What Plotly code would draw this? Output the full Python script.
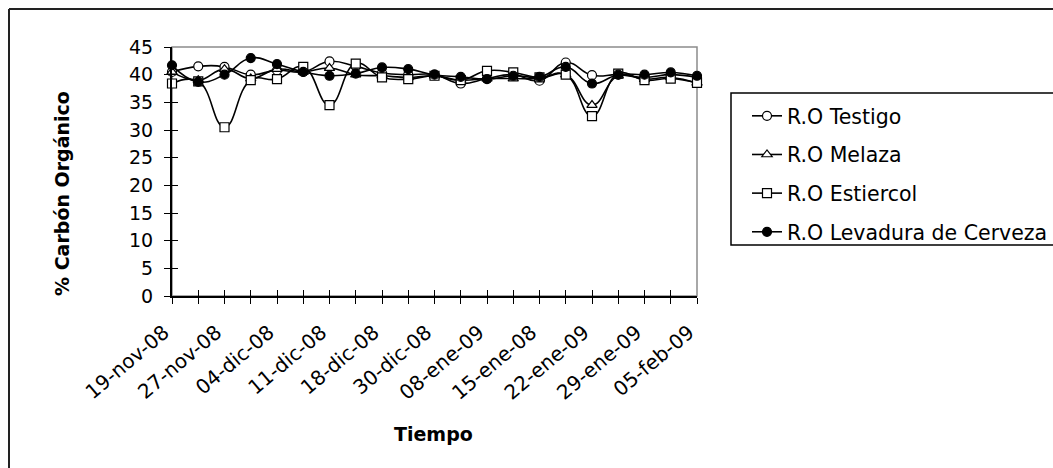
import plotly.graph_objects as go

# ---- data ----
tick_labels = ["19-nov-08", "27-nov-08", "04-dic-08", "11-dic-08", "18-dic-08", "30-dic-08",
               "08-ene-09", "15-ene-08", "22-ene-09", "29-ene-09", "05-feb-09"]

testigo = [40.5, 41.5, 41.4, 40.0, 40.8, 40.5, 42.4, 41.5, 40.3, 40.0, 40.0,
           38.4, 39.3, 40.0, 38.9, 42.2, 39.9, 40.0, 39.5, 40.0, 39.5]
melaza = [40.5, 39.0, 41.0, 39.3, 41.0, 40.5, 41.2, 40.0, 39.8, 39.5, 39.8,
          39.0, 39.3, 39.3, 39.3, 40.0, 34.5, 39.8, 39.2, 39.5, 38.5]
estiercol = [38.4, 38.8, 30.5, 39.0, 39.2, 41.4, 34.5, 42.0, 39.5, 39.2, 39.8,
             39.0, 40.7, 40.4, 39.5, 40.0, 32.5, 40.2, 39.0, 39.3, 38.5]
levadura = [41.7, 38.7, 40.0, 43.0, 41.9, 40.5, 39.8, 40.2, 41.3, 41.0, 40.0,
            39.6, 39.2, 39.8, 39.6, 41.4, 38.4, 40.0, 40.0, 40.4, 39.8]

series_names = ["R.O Testigo", "R.O Melaza", "R.O Estiercol", "R.O Levadura de Cerveza"]
y_ticks = list(range(0, 46, 5))

# ---- layout constants ----
W, H = 1053, 468
L, R, T, B = 172, 697, 47, 296
FONT = "DejaVu Sans"

n = len(testigo)
xs = list(range(n))
tickvals = xs
ticktext = [tick_labels[i // 2] if i % 2 == 0 else "" for i in xs]

def px2x(px):
    return (px - L) / (R - L)

def py2y(py):
    return (B - py) / (B - T)

fig = go.Figure()

styles = [
    dict(symbol="circle", color="white"),
    dict(symbol="triangle-up", color="white"),
    dict(symbol="square", color="white"),
    dict(symbol="circle", color="black"),
]
for i, (name, vals, st) in enumerate(zip(series_names, [testigo, melaza, estiercol, levadura], styles)):
    fig.add_trace(go.Scatter(
        x=xs, y=vals, name=name, mode="lines+markers",
        line=dict(color="black", width=1.6, shape="spline", smoothing=1.3),
        marker=dict(symbol=st["symbol"], size=9, color=st["color"],
                    line=dict(color="black", width=1.2)),
        cliponaxis=False, legendgroup=f"g{i}", hoverinfo="skip",
    ))

# invisible trace carrying the overlay axes (inner tick marks)
fig.add_trace(go.Scatter(x=xs, y=testigo, xaxis="x2", yaxis="y2", mode="lines",
                         opacity=0, showlegend=False, hoverinfo="skip"))

fig.update_layout(
    width=W, height=H,
    margin=dict(l=L, r=W - R, t=T, b=H - B, pad=0, autoexpand=False),
    paper_bgcolor="white", plot_bgcolor="white",
    font=dict(family=FONT, color="black", size=16),
    showlegend=True,
    legend=dict(x=px2x(747), y=py2y(96), xanchor="left", yanchor="top",
                bgcolor="rgba(0,0,0,0)", borderwidth=0,
                font=dict(family=FONT, size=20.5, color="black"),
                tracegroupgap=9, traceorder="grouped"),
    xaxis=dict(range=[0, n - 1], tickmode="array", tickvals=tickvals, ticktext=ticktext,
               tickangle=-40, ticks="outside", ticklen=6, tickwidth=1.3, tickcolor="black",
               showline=True, linecolor="black", linewidth=2, showgrid=False, zeroline=False,
               tickfont=dict(family=FONT, size=20, color="black"),
               ticklabelstandoff=9, ticklabelshift=-8, automargin=False,
               fixedrange=True),
    yaxis=dict(range=[0, 45], tickmode="array", tickvals=y_ticks,
               ticks="outside", ticklen=6, tickwidth=1.3, tickcolor="black",
               showline=True, linecolor="black", linewidth=2, showgrid=False, zeroline=False,
               tickfont=dict(family=FONT, size=19, color="black"), ticklabelstandoff=7,
               automargin=False, fixedrange=True),
    xaxis2=dict(overlaying="x", anchor="y", range=[0, n - 1], tickmode="array", tickvals=tickvals,
                ticks="inside", ticklen=6, tickwidth=1.3, tickcolor="black",
                showticklabels=False, showline=False, showgrid=False, zeroline=False),
    yaxis2=dict(overlaying="y", anchor="x", side="left", range=[0, 45], tickmode="array",
                tickvals=y_ticks, ticks="inside", ticklen=6, tickwidth=1.3, tickcolor="black",
                showticklabels=False, showline=False, showgrid=False, zeroline=False),
    shapes=[
        # plot area border (grey)
        dict(type="rect", xref="paper", yref="paper", x0=0, y0=0, x1=1, y1=1,
             line=dict(color="#8c8c8c", width=1.5), layer="below"),
        # legend box
        dict(type="rect", xref="paper", yref="paper", x0=px2x(731), x1=px2x(1062),
             y0=py2y(245), y1=py2y(93), line=dict(color="black", width=1.5),
             fillcolor="rgba(0,0,0,0)", layer="below"),
        # outer chart border (top & left visible)
        dict(type="line", xref="paper", yref="paper", x0=px2x(9), x1=px2x(1060),
             y0=py2y(9), y1=py2y(9), line=dict(color="#222222", width=2)),
        dict(type="line", xref="paper", yref="paper", x0=px2x(9), x1=px2x(9),
             y0=py2y(9), y1=py2y(480), line=dict(color="#222222", width=2)),
    ],
    annotations=[
        dict(text="<b>% Carbón Orgánico</b>", xref="paper", yref="paper",
             x=px2x(62), y=py2y(194), textangle=-90, showarrow=False,
             xanchor="center", yanchor="middle",
             font=dict(family=FONT, size=19, color="black")),
        dict(text="<b>Tiempo</b>", xref="paper", yref="paper",
             x=px2x(433), y=py2y(434), showarrow=False,
             xanchor="center", yanchor="middle",
             font=dict(family=FONT, size=19, color="black")),
    ],
)

fig.write_html("out.html", config={"displayModeBar": False})
